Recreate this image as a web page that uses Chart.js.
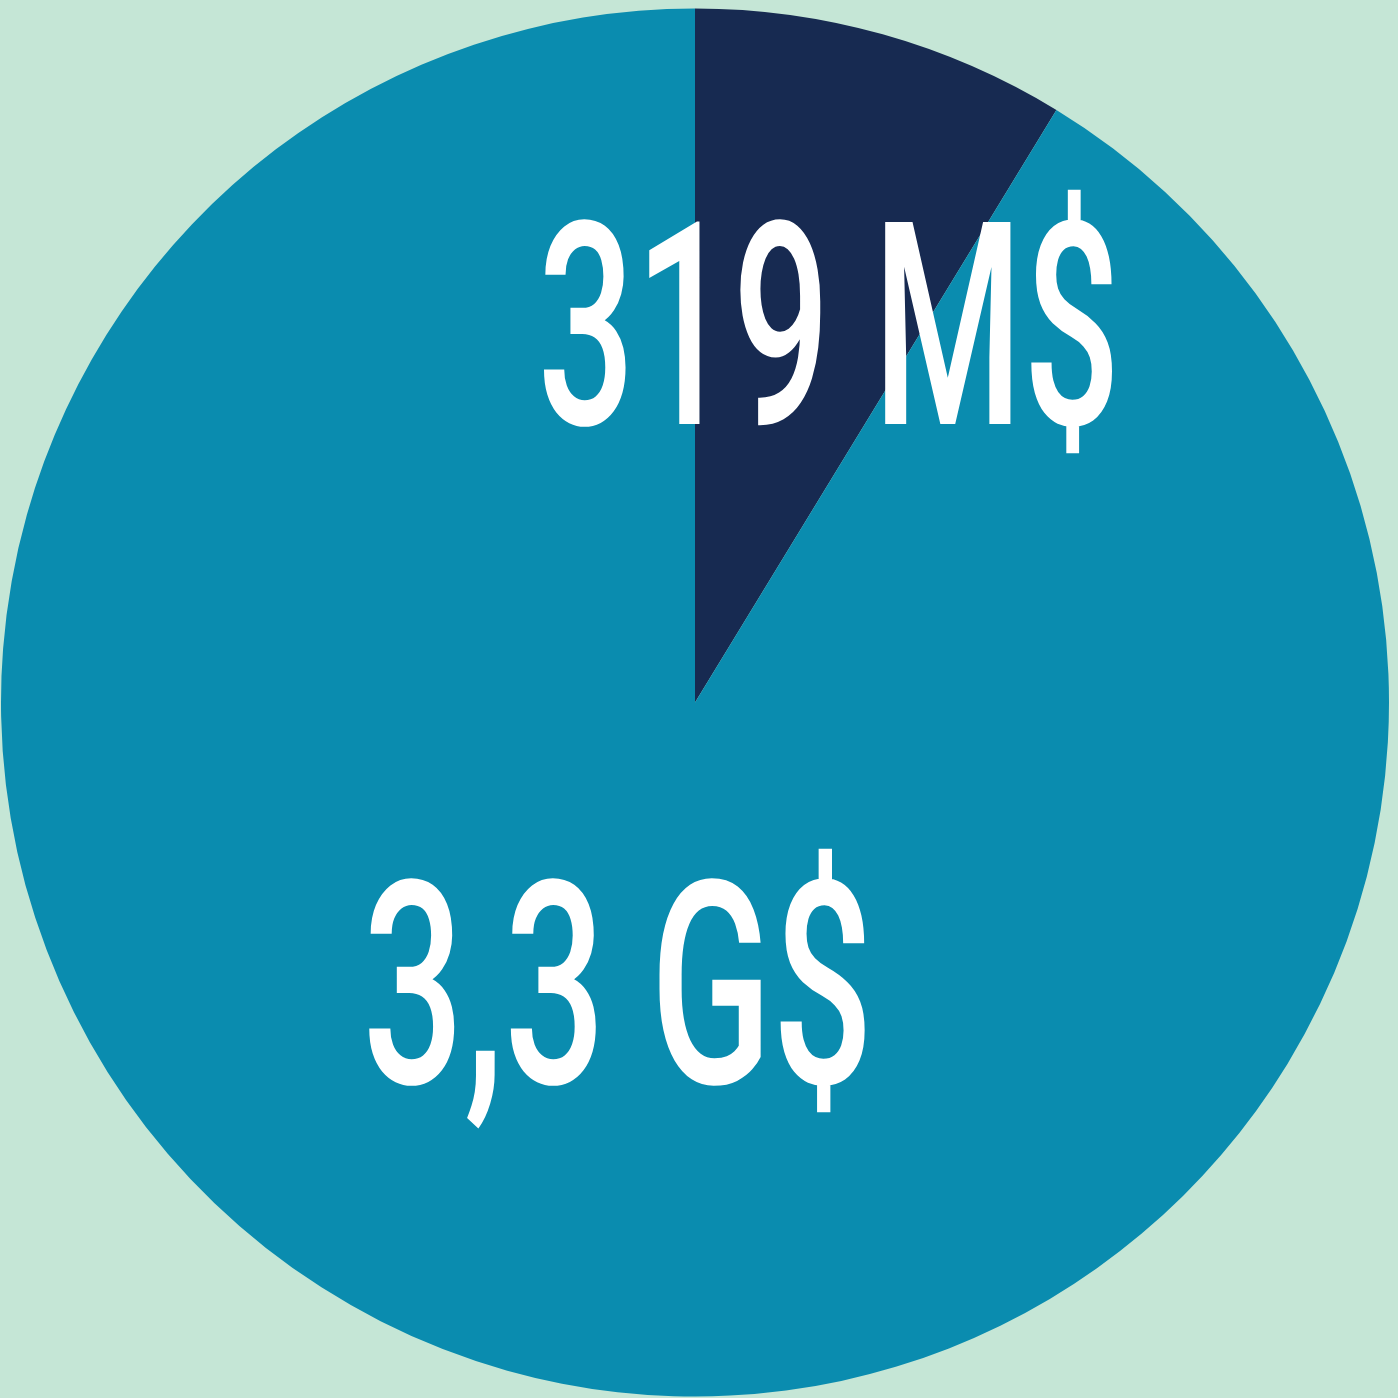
<!DOCTYPE html>
<html>
<head>
<meta charset="utf-8">
<script src="https://cdn.jsdelivr.net/npm/chart.js@4"></script>
<style>
  html, body { margin: 0; padding: 0; background: #c5e6d6; }
  #wrap { width: 1398px; height: 1398px; }
</style>
</head>
<body>
<div id="wrap"><canvas id="grafico" width="1398" height="1398"></canvas></div>
<script>
// Données (en millions de dollars)
const categories = ['319 M$', '3,3 G$'];
const valeurs = [319, 3340];
const couleurs = ['#172a51', '#0a8caf'];

// Étiquettes blanches dessinées par-dessus les parts
const etiquettes = {
    id: 'etiquettes',
    afterDraw(chart) {
        const ctx = chart.ctx;
        // position du texte : [centre x, ligne de base, largeur visée]
        const places = [[829, 424, 583], [618, 1083, 511]];
        ctx.save();
        ctx.fillStyle = '#ffffff';
        ctx.font = '500 284px Roboto';
        ctx.textAlign = 'center';
        ctx.textBaseline = 'alphabetic';
        categories.forEach((txt, i) => {
            const p = places[i];
            const w = ctx.measureText(txt).width;
            ctx.save();
            ctx.translate(p[0], p[1]);
            ctx.scale(p[2] / w, 1);
            ctx.fillText(txt, 0, 0);
            ctx.restore();
        });
        ctx.restore();
    }
};

new Chart(document.getElementById('grafico').getContext('2d'), {
    type: 'pie',
    data: {
        labels: categories,
        datasets: [{
            data: valeurs,
            backgroundColor: couleurs,
            borderWidth: 0
        }]
    },
    options: {
        responsive: false,
        animation: false,
        layout: { padding: { left: 1, right: 9, top: 8, bottom: 1 } },
        plugins: {
            legend: { display: false },
            tooltip: { enabled: false }
        }
    },
    plugins: [etiquettes]
});
</script>
</body>
</html>
